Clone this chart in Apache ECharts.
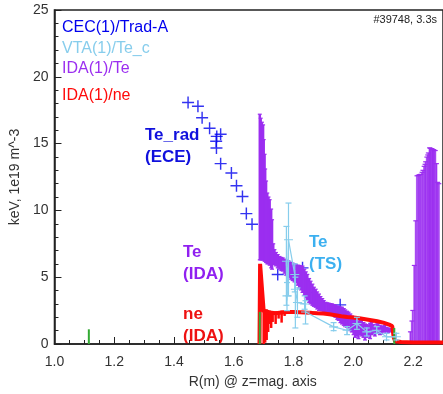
<!DOCTYPE html>
<html>
<head>
<meta charset="utf-8">
<script src="https://cdn.jsdelivr.net/npm/echarts@6/dist/echarts.min.js"></script>
<style>
  html, body { margin: 0; padding: 0; background: #fff; }
  #main { width: 443px; height: 394px; }
</style>
</head>
<body>
<div id="main"></div>
<script>
// x ticks
const xTicks = [1.0, 1.2, 1.4, 1.6, 1.8, 2.0, 2.2]

// CEC(1)/Trad-A  (ECE radiation temperature)
const eceR = [1.447, 1.480, 1.494, 1.519, 1.556, 1.543, 1.541, 1.542, 1.556, 1.592, 1.609, 1.629, 1.642, 1.661,
  1.747, 1.830, 1.856, 1.879, 1.956]
const eceTe = [18.07, 17.8, 16.94, 16.15, 15.7, 15.54, 15.17, 14.67, 13.5, 12.8, 11.85, 11.04, 9.76, 8.97,
  5.2, 5.7, 3.86, 3.1, 2.93]

// IDA(1)/Te  error bars (low / high)
const teR = [1.687, 1.690, 1.694, 1.698, 1.700, 1.703, 1.705, 1.708, 1.712, 1.716, 1.720, 1.725, 1.728,
  1.732, 1.736, 1.741, 1.747, 1.753, 1.759, 1.764, 1.770, 1.775, 1.781, 1.786, 1.792, 1.797, 1.803, 1.808,
  1.814, 1.819, 1.825, 1.830, 1.836, 1.841, 1.846, 1.852, 1.857, 1.863, 1.868, 1.874, 1.879, 1.885, 1.890,
  1.896, 1.901, 1.907, 1.913, 1.918, 1.924, 1.929, 1.935, 1.940, 1.946, 1.951, 1.957, 1.962, 1.968, 1.973,
  1.979, 1.984, 1.990, 1.995, 2.001, 2.006, 2.012, 2.017, 2.023, 2.028, 2.034, 2.039, 2.045, 2.050, 2.056,
  2.061, 2.067, 2.072, 2.078, 2.083, 2.089, 2.094, 2.100, 2.105, 2.111, 2.116, 2.122, 2.127]
const teLo = [6.3, 6.3, 6.3, 6.3, 6.3, 6.2, 6.2, 6.1, 6.0, 6.0, 5.9, 5.7, 5.6,
  5.95, 5.95, 5.85, 5.7, 5.6, 5.5, 5.46, 5.3, 5.15, 5.05, 4.96, 4.85, 4.75, 4.65, 4.59,
  4.4, 4.2, 4.05, 3.86, 3.65, 3.45, 3.3, 3.12, 3.0, 2.9, 2.82, 2.75, 2.62, 2.51, 2.5,
  2.48, 2.45, 2.4, 2.36, 2.32, 2.29, 2.26, 2.1, 2.0, 1.85, 1.77, 1.6, 1.5, 1.4, 1.3,
  1.25, 1.2, 1.0, 0.9, 0.7, 0.5, 0.6, 0.4, 0.7, 0.6, 0.5, 0.3, 0.5, 0.6, 0.4,
  0.7, 0.8, 0.6, 0.8, 0.8, 0.7, 0.75, 0.9, 0.9, 0.8, 0.85, 0.9, 0.95]
const teHi = [17.2, 16.9, 16.6, 16.4, 15.3, 14.2, 13.1, 12.2, 11.3, 11.0, 10.8, 10.1, 9.3,
  7.5, 7.06, 6.85, 6.69, 6.55, 6.48, 6.44, 6.35, 6.28, 6.22, 6.19, 6.1, 6.05, 6.0, 5.95,
  5.9, 5.88, 5.85, 5.83, 5.6, 5.4, 5.21, 4.9, 4.7, 4.48, 4.25, 4.1, 3.9, 3.74, 3.55,
  3.4, 3.25, 3.12, 3.08, 3.05, 3.02, 3.0, 2.95, 2.9, 2.85, 2.8, 2.77, 2.75, 2.65, 2.55,
  2.45, 2.38, 2.25, 2.1, 2.0, 1.9, 1.8, 1.7, 1.85, 1.8, 1.6, 1.5, 1.45, 1.4, 1.55,
  1.6, 1.45, 1.3, 1.5, 1.55, 1.4, 1.3, 1.35, 1.4, 1.25, 1.2, 1.15, 1.1]

// IDA(1)/Te outside the separatrix (bars from zero)
const edgeR = [2.191, 2.196, 2.199, 2.204, 2.209, 2.213, 2.217, 2.220, 2.223, 2.226, 2.230, 2.233, 2.237, 2.240,
  2.242, 2.246, 2.249, 2.251, 2.255, 2.258, 2.262, 2.265, 2.268, 2.271, 2.274, 2.278, 2.282, 2.286]
const edgeHi = [0.91, 1.72, 2.51, 5.88, 9.22, 12.59, 12.62, 12.66, 12.68, 12.7, 12.85, 13.0, 13.3, 13.45,
  13.64, 13.99, 14.15, 14.3, 14.68, 14.65, 14.62, 14.58, 14.55, 14.5, 14.48, 13.5, 12.1, 12.0]

// IDA(1)/ne
const neR = [1.686, 1.688, 1.694, 1.700, 1.720, 1.740, 1.760, 1.780, 1.800, 1.820, 1.840, 1.860, 1.880, 1.900,
  1.920, 1.940, 1.960, 1.980, 2.000, 2.020, 2.040, 2.060, 2.080, 2.100, 2.120, 2.130, 2.135, 2.140, 2.160,
  2.200, 2.250, 2.300]
const neVal = [0.0, 6.0, 6.0, 2.45, 2.35, 2.3, 2.35, 2.4, 2.4, 2.38, 2.35, 2.33, 2.3, 2.28,
  2.22, 2.15, 2.08, 2.02, 1.98, 1.92, 1.85, 1.78, 1.7, 1.6, 1.45, 1.35, 0.5, 0.2, 0.15,
  0.12, 0.12, 0.12]
const neErrR = [1.700, 1.705, 1.710, 1.715, 1.720, 1.725, 1.730, 1.740, 1.750, 1.760, 1.770]
const neErrLo = [0.0, 0.1, 0.3, 0.9, 1.5, 1.2, 1.65, 1.5, 1.9, 1.6, 2.1]
const neErrHi = [2.6, 2.6, 2.6, 2.55, 2.5, 2.45, 2.45, 2.45, 2.45, 2.5, 2.5]

// VTA(1)/Te_c  (Thomson scattering)
const tsR = [1.776, 1.778, 1.783, 1.804, 1.806, 1.813, 1.837, 1.840, 1.934, 1.979, 2.012, 2.045, 2.078, 2.111, 2.144]
const tsVal = [6.2, 3.6, 7.8, 5.2, 4.1, 3.1, 3.0, 2.4, 1.28, 1.03, 1.53, 0.91, 1.03, 0.54, 0.54]
const tsLo = [2.9, 2.5, 3.6, 3.9, 1.2, 2.0, 2.6, 1.5, 1.0, 0.7, 1.1, 0.6, 0.8, 0.3, 0.3]
const tsHi = [8.8, 4.6, 10.55, 6.0, 5.0, 4.2, 3.6, 3.24, 1.6, 1.3, 2.0, 1.2, 1.3, 0.8, 0.8]

// green markers
const greenR = [1.115, 1.687, 2.137]
const greenH = [1.1, 2.4, 1.2]

const C_ECE = '#0000ee'
const C_TS = '#87cdec'
const C_TE = '#9b2ef0'
const C_NE = '#ff0a0a'

function errBars(name, r, lo, hi, color, width, cap, z) {
  return {
    name: name,
    type: 'custom',
    z: z,
    clip: true,
    silent: true,
    data: r.map((x, i) => [x, lo[i], hi[i]]),
    encode: { x: 0, y: [1, 2] },
    renderItem: function (params, api) {
      const a = api.coord([api.value(0), api.value(1)])
      const b = api.coord([api.value(0), api.value(2)])
      const st = { stroke: color, lineWidth: width }
      const kids = [{ type: 'line', shape: { x1: a[0], y1: a[1], x2: b[0], y2: b[1] }, style: st }]
      if (cap > 0) {
        const cs = { stroke: color, lineWidth: 1.2 }
        kids.push({ type: 'line', shape: { x1: b[0] - cap, y1: b[1], x2: b[0] + cap, y2: b[1] }, style: cs })
        kids.push({ type: 'line', shape: { x1: a[0] - cap, y1: a[1], x2: a[0] + cap, y2: a[1] }, style: cs })
      }
      return { type: 'group', children: kids }
    }
  }
}

// thin plus sign
const plus = 'path://M4.4,0h1.2v4.4h4.4v1.2h-4.4v4.4h-1.2v-4.4h-4.4v-1.2h4.4z'

let myChart = echarts.init(document.getElementById('main'), null, { renderer: 'canvas' })

myChart.setOption({
  animation: false,
  grid: { left: 54, top: 10, width: 393, height: 339, show: true, borderColor: '#222', borderWidth: 1.5, backgroundColor: 'transparent' },
  xAxis: {
    type: 'value', min: 1.0, max: 2.3, interval: 0.2,
    name: 'R(m) @ z=mag. axis', nameLocation: 'middle', nameGap: 31,
    nameTextStyle: { color: '#333', fontSize: 14, fontFamily: 'Liberation Sans', padding: [0, 0, 0, 8] },
    axisLine: { show: true, lineStyle: { color: '#222', width: 1.5 } },
    axisTick: { inside: true, length: 7, lineStyle: { color: '#222' } },
    minorTick: { show: true, splitNumber: 4, length: 4, lineStyle: { color: '#222' } },
    splitLine: { show: false },
    axisLabel: {
      color: '#333', fontSize: 14, fontFamily: 'Liberation Sans', margin: 11, showMaxLabel: false,
      formatter: v => xTicks.some(t => Math.abs(t - v) < 1e-6) ? v.toFixed(1) : ''
    }
  },
  yAxis: {
    type: 'value', min: 0, max: 25, interval: 5,
    name: 'keV, 1e19 m^-3', nameLocation: 'middle', nameGap: 28, nameRotate: 90,
    nameTextStyle: { color: '#333', fontSize: 14, fontFamily: 'Liberation Sans' },
    axisLine: { show: true, lineStyle: { color: '#222', width: 1.5 } },
    axisTick: { inside: true, length: 7, lineStyle: { color: '#222' } },
    minorTick: { show: true, splitNumber: 5, length: 4, lineStyle: { color: '#222' } },
    splitLine: { show: false },
    axisLabel: { color: '#333', fontSize: 14, fontFamily: 'Liberation Sans', margin: 6 }
  },
  series: [
    {
      name: 'CEC(1)/Trad-A', type: 'scatter', z: 2,
      data: eceR.map((x, i) => [x, eceTe[i]]),
      symbol: plus, symbolSize: 12,
      itemStyle: { color: C_ECE }
    },
    errBars('IDA(1)/Te', teR, teLo, teHi, C_TE, 2.5, 2, 3),
    errBars('IDA(1)/Te edge fill', edgeR, edgeR.map(() => 0), edgeHi, '#c58af5', 2.2, 0, 3),
    errBars('IDA(1)/Te edge', edgeR, edgeR.map(() => 0), edgeHi, C_TE, 1, 2.5, 4),
    errBars('IDA(1)/ne err', neErrR, neErrLo, neErrHi, C_NE, 2.5, 0, 5),
    {
      name: 'IDA(1)/ne', type: 'line', z: 5,
      data: neR.map((x, i) => [x, neVal[i]]),
      symbol: 'none', lineStyle: { color: C_NE, width: 4 }
    },
    errBars('green', greenR, greenR.map(() => 0), greenH, '#33aa33', 2, 0, 6),
    errBars('VTA(1)/Te_c err', tsR, tsLo, tsHi, C_TS, 1.2, 3, 7),
    {
      name: 'VTA(1)/Te_c', type: 'line', z: 7,
      data: tsR.map((x, i) => [x, tsVal[i]]),
      symbol: plus, symbolSize: 9, showAllSymbol: true,
      itemStyle: { color: C_TS },
      lineStyle: { color: C_TS, width: 1.2 }
    }
  ],
  graphic: [
    { type: 'text', left: 62, top: 20, style: { text: 'CEC(1)/Trad-A', fill: C_ECE, font: '16px Liberation Sans' } },
    { type: 'text', left: 62, top: 41, style: { text: 'VTA(1)/Te_c', fill: C_TS, font: '16px Liberation Sans' } },
    { type: 'text', left: 62, top: 61, style: { text: 'IDA(1)/Te', fill: C_TE, font: '16px Liberation Sans' } },
    { type: 'text', left: 62, top: 88, style: { text: 'IDA(1)/ne', fill: C_NE, font: '16px Liberation Sans' } },
    { type: 'text', right: 6, top: 14, style: { text: '#39748, 3.3s', fill: '#222', font: '11px Liberation Sans' } },
    { type: 'text', left: 145, top: 124, style: { text: 'Te_rad\n(ECE)', fill: '#1010dd', font: 'bold 17px Liberation Sans', lineHeight: 22 } },
    { type: 'text', left: 183, top: 241, style: { text: 'Te\n(IDA)', fill: '#9020f0', font: 'bold 17px Liberation Sans', lineHeight: 22 } },
    { type: 'text', left: 183, top: 303, style: { text: 'ne\n(IDA)', fill: '#ee1111', font: 'bold 17px Liberation Sans', lineHeight: 22 } },
    { type: 'text', left: 309, top: 231, style: { text: 'Te\n(TS)', fill: '#3cb0f0', font: 'bold 17px Liberation Sans', lineHeight: 22 } }
  ]
})
</script>
</body>
</html>
